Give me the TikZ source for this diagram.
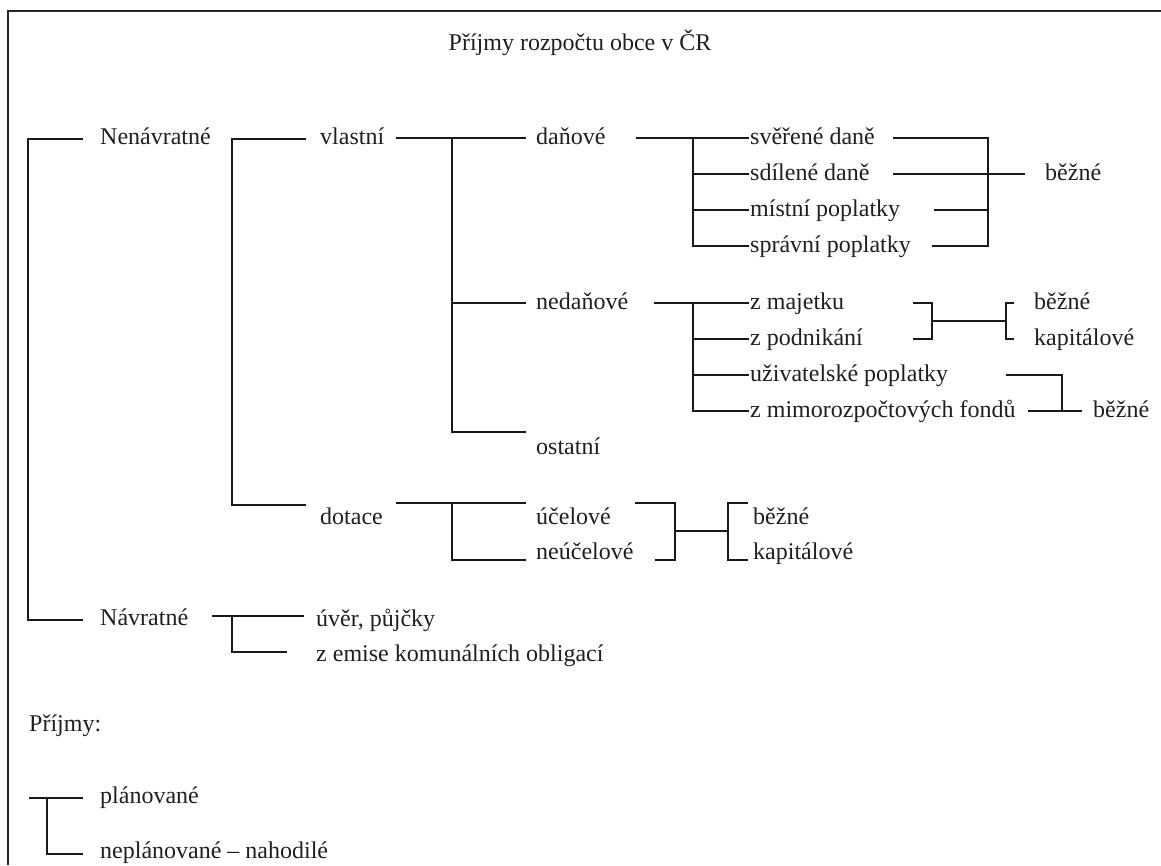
\documentclass[tikz,border=0pt]{standalone}
\usepackage{fontspec}
\setmainfont{Liberation Serif}
\begin{document}
\begin{tikzpicture}[x=1pt,y=-1pt,
  lbl/.style={anchor=base west, inner sep=0pt, font=\fontsize{24}{28}\selectfont, text=black!88},
  ln/.style={line width=1.5pt, black!90},
  frame/.style={line width=2pt, black!85}]
\useasboundingbox (0,0) rectangle (1161,865);
% frame (cropped)
\coordinate (fb) at (8,865);
\coordinate (fc) at (8,11);
\coordinate (fr) at (1161,11);
\draw[frame] (fb) -- (fc) -- (fr);

% title
\node[anchor=base, inner sep=0pt, font=\fontsize{24}{28}\selectfont, text=black!88] (title) at (580,50) {Příjmy rozpočtu obce v ČR};

% text nodes
\node[lbl] (nen) at (100,144) {Nenávratné};
\node[lbl] (vla) at (320,144) {vlastní};
\node[lbl] (dan) at (536,144) {daňové};
\node[lbl] (sve) at (750,144) {svěřené daně};
\node[lbl] (sdi) at (750,180) {sdílené daně};
\node[lbl] (mis) at (750,216) {místní poplatky};
\node[lbl] (spr) at (750,252) {správní poplatky};
\node[lbl] (bez1) at (1045,180) {běžné};
\node[lbl] (ned) at (536,309) {nedaňové};
\node[lbl] (maj) at (750,309) {z majetku};
\node[lbl] (pod) at (750,345) {z podnikání};
\node[lbl] (uzi) at (750,381) {uživatelské poplatky};
\node[lbl] (mim) at (750,417) {z mimorozpočtových fondů};
\node[lbl] (bez2) at (1034,309) {běžné};
\node[lbl] (kap2) at (1034,345) {kapitálové};
\node[lbl] (bez3) at (1093,417) {běžné};
\node[lbl] (ost) at (536,454) {ostatní};
\node[lbl] (dot) at (320,524) {dotace};
\node[lbl] (uce) at (536,524) {účelové};
\node[lbl] (neu) at (536,559) {neúčelové};
\node[lbl] (bez4) at (753,524) {běžné};
\node[lbl] (kap4) at (753,559) {kapitálové};
\node[lbl] (nav) at (100,625) {Návratné};
\node[lbl] (uve) at (316,626) {úvěr, půjčky};
\node[lbl] (zem) at (316,661) {z emise komunálních obligací};
\node[lbl] (pri) at (29,731) {Příjmy:};
\node[lbl] (pla) at (100,803) {plánované};
\node[lbl] (nep) at (100,858) {neplánované – nahodilé};

% level 0
\coordinate (a0) at (28,139); \coordinate (a1) at (83,139);
\coordinate (a2) at (28,620); \coordinate (a3) at (83,620);
\draw[ln] (a1) -- (a0) -- (a2) -- (a3);

% level 1 (Nenávratné)
\coordinate (b0) at (232,139); \coordinate (b1) at (306,139);
\coordinate (b2) at (232,505); \coordinate (b3) at (306,505);
\draw[ln] (b1) -- (b0) -- (b2) -- (b3);

% vlastní
\coordinate (c0) at (396,138); \coordinate (c1) at (526,138);
\coordinate (cj) at (452,138); \coordinate (cm) at (452,303);
\coordinate (cm2) at (526,303); \coordinate (cb) at (452,432);
\coordinate (cb2) at (526,432);
\draw[ln] (c0) -- (c1);
\draw[ln] (cj) -- (cb) -- (cb2);
\draw[ln] (cm) -- (cm2);

% daňové
\coordinate (d0) at (636,138); \coordinate (d1) at (749,138);
\coordinate (dj) at (693,138); \coordinate (db) at (693,246);
\coordinate (d2) at (693,174); \coordinate (d2e) at (749,174);
\coordinate (d3) at (693,210); \coordinate (d3e) at (749,210);
\coordinate (dbe) at (749,246);
\draw[ln] (d0) -- (d1);
\draw[ln] (dj) -- (db) -- (dbe);
\draw[ln] (d2) -- (d2e);
\draw[ln] (d3) -- (d3e);

% bracket daně -> běžné
\coordinate (e0) at (893,138); \coordinate (ej) at (988,138);
\coordinate (e1) at (893,174); \coordinate (e1e) at (1025,174);
\coordinate (e2) at (934,210); \coordinate (e2e) at (988,210);
\coordinate (e3) at (932,246); \coordinate (eb) at (988,246);
\draw[ln] (e0) -- (ej) -- (eb) -- (e3);
\draw[ln] (e1) -- (e1e);
\draw[ln] (e2) -- (e2e);

% nedaňové
\coordinate (f0) at (654,303); \coordinate (f1) at (749,303);
\coordinate (fj) at (693,303); \coordinate (fbt) at (693,411);
\coordinate (f2) at (693,339); \coordinate (f2e) at (749,339);
\coordinate (f3) at (693,375); \coordinate (f3e) at (749,375);
\coordinate (fbe) at (749,411);
\draw[ln] (f0) -- (f1);
\draw[ln] (fj) -- (fbt) -- (fbe);
\draw[ln] (f2) -- (f2e);
\draw[ln] (f3) -- (f3e);

% z majetku / z podnikání bracket
\coordinate (g0) at (913,303); \coordinate (g1) at (932,303);
\coordinate (g2) at (932,339); \coordinate (g3) at (913,339);
\coordinate (gm) at (932,321); \coordinate (gm2) at (1006,321);
\coordinate (h0) at (1014,303); \coordinate (h1) at (1006,303);
\coordinate (h2) at (1006,339); \coordinate (h3) at (1014,339);
\draw[ln] (g0) -- (g1) -- (g2) -- (g3);
\draw[ln] (gm) -- (gm2);
\draw[ln] (h0) -- (h1) -- (h2) -- (h3);

% uživatelské / mimorozpočtové bracket
\coordinate (i0) at (1006,375); \coordinate (i1) at (1062,375);
\coordinate (i2) at (1062,411); \coordinate (i3) at (1028,411);
\coordinate (i4) at (1082,411);
\draw[ln] (i0) -- (i1) -- (i2);
\draw[ln] (i3) -- (i4);

% dotace
\coordinate (k0) at (396,503); \coordinate (k1) at (526,503);
\coordinate (kj) at (452,503); \coordinate (kb) at (452,560);
\coordinate (kbe) at (526,560);
\draw[ln] (k0) -- (k1);
\draw[ln] (kj) -- (kb) -- (kbe);

% účelové / neúčelové bracket
\coordinate (l0) at (635,503); \coordinate (l1) at (675,503);
\coordinate (l2) at (675,560); \coordinate (l3) at (655,560);
\coordinate (lm) at (675,531); \coordinate (lm2) at (728,531);
\coordinate (m0) at (748,503); \coordinate (m1) at (728,503);
\coordinate (m2) at (728,560); \coordinate (m3) at (748,560);
\draw[ln] (l0) -- (l1) -- (l2) -- (l3);
\draw[ln] (lm) -- (lm2);
\draw[ln] (m0) -- (m1) -- (m2) -- (m3);

% Návratné
\coordinate (n0) at (212,616); \coordinate (n1) at (304,616);
\coordinate (nj) at (232,616); \coordinate (nb) at (232,652);
\coordinate (nbe) at (287,652);
\draw[ln] (n0) -- (n1);
\draw[ln] (nj) -- (nb) -- (nbe);

% plánované / neplánované
\coordinate (p0) at (29,798); \coordinate (p1) at (83,798);
\coordinate (pj) at (47,798); \coordinate (pb) at (47,854);
\coordinate (pbe) at (83,854);
\draw[ln] (p0) -- (p1);
\draw[ln] (pj) -- (pb) -- (pbe);
\end{tikzpicture}
\end{document}
